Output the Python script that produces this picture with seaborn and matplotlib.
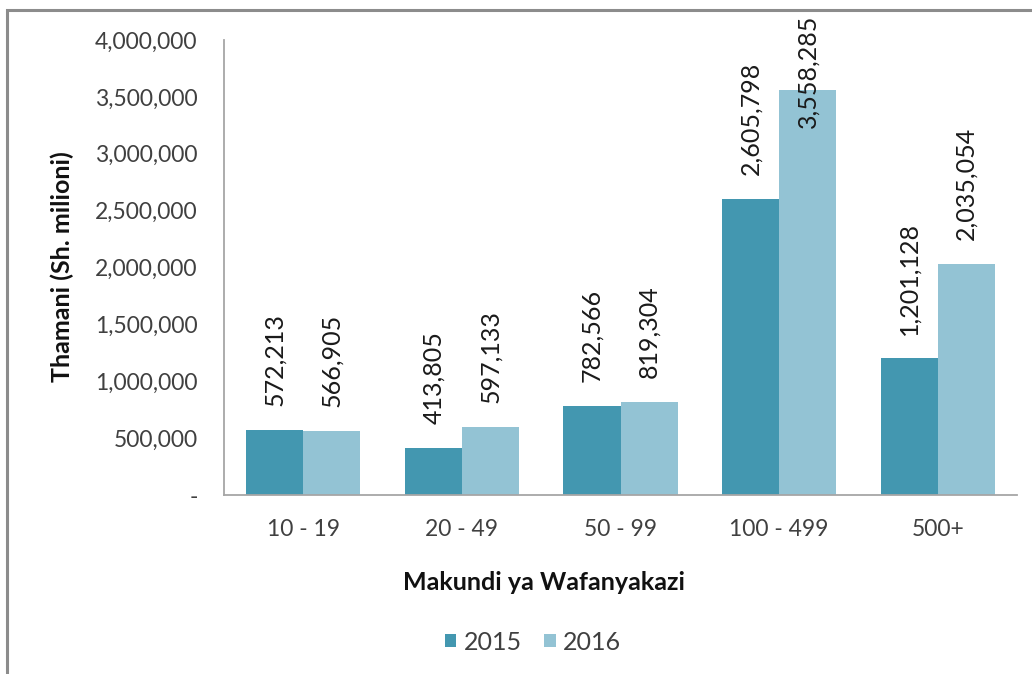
import matplotlib
matplotlib.use("Agg")
import matplotlib.pyplot as plt
import seaborn as sns
import pandas as pd
from matplotlib.patches import Patch, Rectangle

categories = ["10 - 19", "20 - 49", "50 - 99", "100 - 499", "500+"]
values_2015 = [572213, 413805, 782566, 2605798, 1201128]
values_2016 = [566905, 597133, 819304, 3558285, 2035054]
years = ["2015", "2016"]
yticks = [0, 500000, 1000000, 1500000, 2000000, 2500000, 3000000, 3500000, 4000000]

colors = {"2015": "#4397B0", "2016": "#93C3D4"}

df = pd.DataFrame({
    "Kundi": categories * 2,
    "Mwaka": [years[0]] * len(categories) + [years[1]] * len(categories),
    "Thamani": values_2015 + values_2016,
})

sns.set_theme(style="white")
plt.rcParams["font.family"] = ["Lato", "DejaVu Sans"]

W, H = 1032, 674
fig = plt.figure(figsize=(W / 100, H / 100), dpi=100)
ax = fig.add_axes([224 / W, 1 - 495 / H, (1017 - 224) / W, (495 - 40) / H])

sns.barplot(data=df, x="Kundi", y="Thamani", hue="Mwaka", order=categories,
            hue_order=years, palette=colors, width=0.72, saturation=1,
            edgecolor="none", linewidth=0, ax=ax, legend=False)

ax.set_xlim(-0.5, len(categories) - 0.5)
ax.set_ylim(0, 4000000)
ax.set_yticks(yticks)
ax.set_yticklabels(["-" if v == 0 else f"{v:,}" for v in yticks])
ax.tick_params(axis="both", length=0, labelsize=16.5, labelcolor="#404040")
ax.tick_params(axis="y", pad=19)
ax.tick_params(axis="x", pad=17)
ax.set_xlabel("")
ax.set_ylabel("")

for s in ["top", "right"]:
    ax.spines[s].set_visible(False)
for s in ["left", "bottom"]:
    ax.spines[s].set_color("#A6A6A6")
    ax.spines[s].set_linewidth(1.3)

# value labels
fig.canvas.draw()
renderer = fig.canvas.get_renderer()
top_limit_px = H - 15  # highest allowed pixel (display coords, from bottom)
offset = 17
for container in ax.containers:
    for bar in container:
        h = bar.get_height()
        xc = bar.get_x() + bar.get_width() / 2
        t = ax.annotate(f"{int(round(h)):,}", xy=(xc, h), xytext=(0, offset),
                        textcoords="offset points", rotation=90,
                        ha="center", va="bottom", fontsize=18,
                        color="#1a1a1a", annotation_clip=False)
        bb = t.get_window_extent(renderer)
        if bb.y1 > top_limit_px:
            shift = (bb.y1 - top_limit_px) * 72 / fig.dpi
            t.xyann = (0, offset - shift)

fig.text(62 / W, 1 - 267 / H, "Thamani (Sh. milioni)", rotation=90,
         ha="center", va="center", fontsize=18, fontweight="bold", color="#111111")
fig.text(544 / W, 1 - 583 / H, "Makundi ya Wafanyakazi",
         ha="center", va="center", fontsize=18, fontweight="bold", color="#111111")

handles = [Patch(facecolor=colors[y], edgecolor="none", label=y) for y in years]
fig.legend(handles=handles, loc="center", bbox_to_anchor=(533 / W, 1 - 642 / H),
           ncol=2, frameon=False, fontsize=18, handlelength=0.45, handleheight=0.45,
           handletextpad=0.3, columnspacing=0.9, labelcolor="#404040")

# outer chart border (top and left visible)
fig.add_artist(Rectangle((7 / W, -0.1), 1.2, (H - 10) / H + 0.1,
                         transform=fig.transFigure, fill=False,
                         edgecolor="#8C8C8C", linewidth=2.2))

fig.savefig("out.png", dpi=100)
